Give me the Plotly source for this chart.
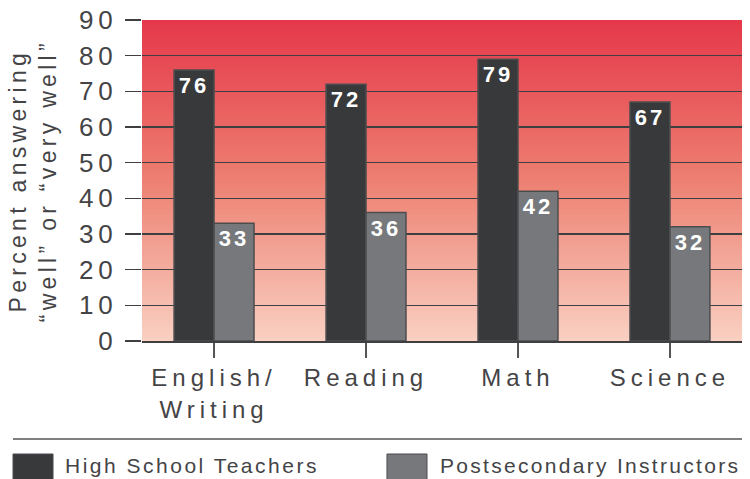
import plotly.graph_objects as go

# ---- data ----
categories = ["English/<br>Writing", "Reading", "Math", "Science"]
series_names = ["High School Teachers", "Postsecondary Instructors"]
hs_values = [76, 72, 79, 67]
ps_values = [33, 36, 42, 32]
y_ticks = [0, 10, 20, 30, 40, 50, 60, 70, 80, 90]
y_title = "Percent answering<br>“well” or “very well”"

# ---- styling ----
FONT = "Liberation Sans, Arial, Helvetica, sans-serif"
TXT = "#444446"
GRID = "#3f3f41"
DARK = "#38393b"
GREY = "#76787c"


def wide(text, ls):
    return "<br>".join(
        f'<span style="letter-spacing:{ls}px">{part}</span>' for part in text.split("<br>")
    )


fig = go.Figure()
for name, vals, color in [(series_names[0], hs_values, DARK), (series_names[1], ps_values, GREY)]:
    fig.add_trace(go.Bar(
        x=categories, y=vals, name=name,
        marker=dict(color=color, line=dict(color="#4d4d50", width=1.5)),
        text=[wide(str(v), 3) for v in vals],
        textposition="inside", insidetextanchor="end",
        textfont=dict(family=FONT, size=22, color="white", weight="bold"),
        cliponaxis=False, hoverinfo="skip",
    ))

# gradient background (overlapping strips)
stops = [(0.0, (249, 209, 194)), (0.5, (237, 128, 114)), (1.0, (229, 56, 74))]


def col_at(t):
    for (t0, c0), (t1, c1) in zip(stops[:-1], stops[1:]):
        if t0 <= t <= t1:
            f = (t - t0) / (t1 - t0)
            return "rgb(%d,%d,%d)" % tuple(round(a + (b - a) * f) for a, b in zip(c0, c1))
    return "rgb(%d,%d,%d)" % stops[-1][1]


ymax = y_ticks[-1]
n = 160
shapes = []
for i in range(n):
    y0 = ymax * i / n
    y1 = min(ymax * (i + 1) / n + 0.6, ymax)
    shapes.append(dict(type="rect", xref="x domain", yref="y", x0=0, x1=1, y0=y0, y1=y1,
                       fillcolor=col_at((i + 0.5) / n), line=dict(width=0), layer="below"))

# legend separator and swatches
shapes.append(dict(type="line", xref="paper", yref="paper", x0=-0.215, x1=1.0, y0=-0.3053, y1=-0.3053,
                   line=dict(color="#555557", width=1.5)))
shapes.append(dict(type="rect", xref="paper", yref="paper", x0=-0.215, x1=-0.1483, y0=-0.352, y1=-0.44,
                   fillcolor=DARK, line=dict(color="#4d4d50", width=1)))
shapes.append(dict(type="rect", xref="paper", yref="paper", x0=0.4083, x1=0.475, y0=-0.352, y1=-0.44,
                   fillcolor=GREY, line=dict(color="#4d4d50", width=1)))

annotations = [
    dict(text=wide(series_names[0], 2.5), xref="paper", yref="paper", x=-0.1317, y=-0.389,
         xanchor="left", yanchor="middle", showarrow=False, font=dict(family=FONT, size=21, color=TXT)),
    dict(text=wide(series_names[1], 2.3), xref="paper", yref="paper", x=0.494, y=-0.389,
         xanchor="left", yanchor="middle", showarrow=False, font=dict(family=FONT, size=21, color=TXT)),
    dict(text=wide(y_title, 4.3), xref="paper", yref="paper", x=-0.182, y=0.5, textangle=-90,
         xanchor="center", yanchor="middle", showarrow=False,
         font=dict(family=FONT, size=23, color=TXT)),
]

fig.update_layout(
    width=750, height=479,
    margin=dict(l=142, r=8, t=20, b=138, autoexpand=False),
    paper_bgcolor="white", plot_bgcolor="white",
    barmode="group", bargap=0.474, bargroupgap=0,
    showlegend=False, hovermode=False,
    shapes=shapes, annotations=annotations,
    font=dict(family=FONT, color=TXT),
)
fig.update_xaxes(
    range=[-0.474, 3.474], tickvals=categories,
    ticktext=[wide(c, 5) for c in categories],
    ticks="outside", ticklen=15, tickwidth=1.5, tickcolor="#555557",
    showline=True, linecolor=GRID, linewidth=1.5,
    showgrid=False, automargin=False,
    tickfont=dict(family=FONT, size=24, color=TXT),
)
fig.update_yaxes(
    range=[0, ymax], tickvals=y_ticks,
    ticktext=[wide(str(v), 5) for v in y_ticks],
    ticks="outside", ticklen=16, tickwidth=1.5, tickcolor=GRID,
    showgrid=True, gridcolor=GRID, gridwidth=1.5, zeroline=False,
    ticklabelstandoff=2, automargin=False,
    tickfont=dict(family=FONT, size=26, color=TXT),
)

fig.write_html("out.html", config={"displayModeBar": False, "staticPlot": True},
               post_script="document.body.style.margin='0';")
